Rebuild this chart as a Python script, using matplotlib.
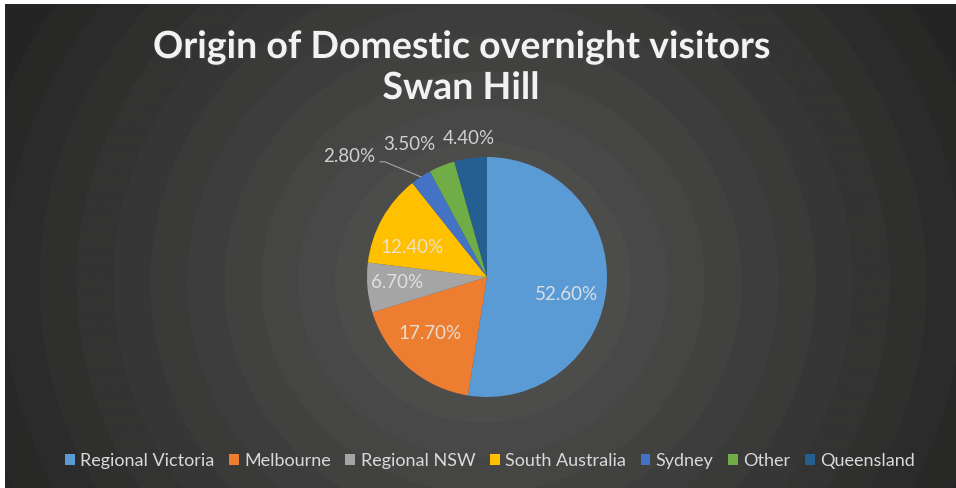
import numpy as np
import matplotlib
matplotlib.use("Agg")
import matplotlib.pyplot as plt
import matplotlib.patheffects as pe
from matplotlib.patches import Patch

plt.rcParams['font.family'] = ['Lato', 'DejaVu Sans']

# data
origins = ["Regional Victoria", "Melbourne", "Regional NSW", "South Australia",
           "Sydney", "Other", "Queensland"]
shares = [52.6, 17.7, 6.7, 12.4, 2.8, 3.5, 4.4]
colors = ["#5B9BD5", "#ED7D31", "#A5A5A5", "#FFC000", "#4472C4", "#70AD47", "#255E91"]

W, H = 956, 488
fig = plt.figure(figsize=(W / 100, H / 100), dpi=100)
fig.patch.set_facecolor("white")

# radial banded background
bg = fig.add_axes([5 / W, 0, 1 - 5 / W, 1 - 4 / H])
yy, xx = np.mgrid[0:H, 0:W]
r = np.hypot(xx - 480, (yy - 280) * 1.05)
shade = 0.35 - 0.20 * np.clip(r / 520, 0, 1)
shade = np.round(shade * 70) / 70
bg.imshow(np.dstack([shade, shade, shade * 0.99]), aspect="auto", interpolation="bilinear")
bg.axis("off")

# pie
R = 120
cx, cy = 487, H - 277
side = 300
ax = fig.add_axes([(cx - side / 2) / W, (cy - side / 2) / H, side / W, side / H])
wedges, _ = ax.pie(shares, colors=colors, startangle=90, counterclock=False,
                   radius=1, wedgeprops=dict(linewidth=0))
ax.set_xlim(-side / 2 / R, side / 2 / R)
ax.set_ylim(-side / 2 / R, side / 2 / R)
ax.set_aspect("equal")
ax.axis("off")

# inside labels
inner = {0: (-12.5, 0.68), 1: (-135.5, 0.67), 2: (-176.2, 0.75), 3: (158.8, 0.67)}
for i, (ang, d) in inner.items():
    a = np.deg2rad(ang)
    ax.text(d * np.cos(a), d * np.sin(a), f"{shares[i]:.2f}%", ha="center", va="center",
            fontsize=13.5, color="#E6E6E6", alpha=0.9)

# outside labels
outer = {4: (-1.15, 1.0), 5: (-0.65, 1.108), 6: (-0.15, 1.158)}
for i, (x, y) in outer.items():
    ax.text(x, y, f"{shares[i]:.2f}%", ha="center", va="center", fontsize=13.5,
            color="#D0D0D0")

# leader line for Sydney
w = wedges[4]
mid = np.deg2rad((w.theta1 + w.theta2) / 2)
ax.plot([-0.89, -0.85, np.cos(mid)], [0.96, 0.96, np.sin(mid)],
        color="#A6A6A6", lw=0.8)

# title
for txt, ypx in [("Origin of Domestic overnight visitors", 47), ("Swan Hill", 88)]:
    fig.text(461 / W, 1 - ypx / H, txt, ha="center", va="center", fontsize=27,
             fontweight="bold", color="#F2F2F2",
             path_effects=[pe.withSimplePatchShadow(offset=(1, -1), alpha=0.5)])

# legend
handles = [Patch(facecolor=c, label=o) for c, o in zip(colors, origins)]
fig.legend(handles=handles, loc="center", bbox_to_anchor=(490 / W, 1 - 461 / H),
           ncol=7, frameon=False, fontsize=13, labelcolor="#D9D9D9",
           handlelength=0.55, handleheight=0.55, handletextpad=0.3, columnspacing=0.8)

fig.savefig("out.png", dpi=100, facecolor=fig.get_facecolor())
